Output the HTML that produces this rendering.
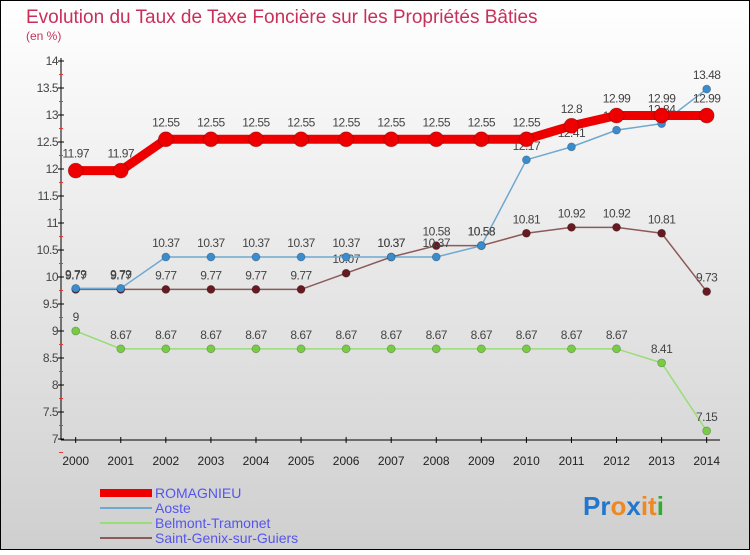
<!DOCTYPE html>
<html><head><meta charset="utf-8"><style>
body{margin:0;width:750px;height:550px;overflow:hidden;font-family:"Liberation Sans",sans-serif}
</style></head><body>
<svg width="750" height="550" viewBox="0 0 750 550">
<defs><linearGradient id="bg" x1="0" y1="0" x2="0" y2="1"><stop offset="0" stop-color="#ffffff"/><stop offset="1" stop-color="#cfcfcf"/></linearGradient></defs>
<rect x="0.5" y="0.5" width="749" height="549" fill="url(#bg)" stroke="#000"/>
<text x="26" y="23" font-size="19" fill="#c8305a">Evolution du Taux de Taxe Foncière sur les Propriétés Bâties</text>
<text x="26" y="40" font-size="12" fill="#c8305a">(en %)</text>
<g id="axes"></g>
<g id="series"></g>
<g font-size="14" fill="#5555ee">
<rect x="100" y="489" width="52" height="8" fill="#ee0000"/>
<text x="155" y="498">ROMAGNIEU</text>
<rect x="100" y="507" width="52" height="2" fill="#6fa8d0"/>
<text x="155" y="513">Aoste</text>
<rect x="100" y="522" width="52" height="2" fill="#99dd77"/>
<text x="155" y="528">Belmont-Tramonet</text>
<rect x="100" y="537" width="52" height="2" fill="#8b5a5a"/>
<text x="155" y="543">Saint-Genix-sur-Guiers</text>
</g>
<text x="583" y="515" font-size="26" font-weight="bold"><tspan fill="#2277cc">Pr</tspan><tspan fill="#ee8822">o</tspan><tspan fill="#2277cc">x</tspan><tspan fill="#ee8822">it</tspan><tspan fill="#33aa33">i</tspan></text>
</svg>
<script>
const years=[2000,2001,2002,2003,2004,2005,2006,2007,2008,2009,2010,2011,2012,2013,2014];
const yTicks=[7,7.5,8,8.5,9,9.5,10,10.5,11,11.5,12,12.5,13,13.5,14];
const romagnieu=[11.97,11.97,12.55,12.55,12.55,12.55,12.55,12.55,12.55,12.55,12.55,12.8,12.99,12.99,12.99];
const aoste=[9.79,9.79,10.37,10.37,10.37,10.37,10.37,10.37,10.37,10.58,12.17,12.41,12.72,12.84,13.48];
const belmont=[9,8.67,8.67,8.67,8.67,8.67,8.67,8.67,8.67,8.67,8.67,8.67,8.67,8.41,7.15];
const saintGenix=[9.77,9.77,9.77,9.77,9.77,9.77,10.07,10.37,10.58,10.58,10.81,10.92,10.92,10.81,9.73];
const NS='http://www.w3.org/2000/svg';
const xs=i=>75.7+i*45.07;
const ys=v=>439-(v-7)*54;
function mk(tag,attrs,parent,txt){const e=document.createElementNS(NS,tag);for(const k in attrs)e.setAttribute(k,attrs[k]);if(txt!==undefined)e.textContent=txt;parent.appendChild(e);return e;}
const ax=document.getElementById('axes');
let e=mk('line',{x1:61,y1:58,x2:61,y2:440,stroke:'#000'},ax);


e=mk('line',{x1:61,y1:440,x2:720,y2:440,stroke:'#000'},ax);


yTicks.forEach((t,i)=>{const y=ys(t);
 mk('line',{x1:58,y1:y,x2:64,y2:y,stroke:'#000'},ax);
 mk('line',{x1:59,y1:y+13.5,x2:63,y2:y+13.5,stroke:'#e33'},ax);
 const tx=mk('text',{x:58,y:y+4,'font-size':12,'text-anchor':'end',fill:'#444','letter-spacing':'-0.5'},ax,String(t));
 
 });
years.forEach((yr,i)=>{const x=xs(i);
 mk('line',{x1:x,y1:437,x2:x,y2:443,stroke:'#000'},ax);
 const tx=mk('text',{x:x,y:465,'font-size':12,'text-anchor':'middle',fill:'#222'},ax,String(yr));
 
 });
const sg=document.getElementById('series');
function draw(vals,name,color,dot,width,r,dy){
 const g=mk('g',{},sg);
 
 
 const p=mk('polyline',{points:vals.map((v,i)=>xs(i)+','+ys(v)).join(' '),fill:'none',stroke:color,'stroke-width':width},g);
 
 
 vals.forEach((v,i)=>{
  const c=mk('circle',{cx:xs(i),cy:ys(v),r:r,fill:dot,stroke:'rgba(0,0,0,0.25)','stroke-width':0.8},g);
  
  
  const t=mk('text',{x:xs(i),y:ys(v)-dy,'font-size':12,'text-anchor':'middle',fill:'#444','letter-spacing':'-0.5'},g,String(v));
  
  
 });
}
draw(saintGenix,'saint-genix','#8b5a5a','#661a22',1.5,4,10);
draw(belmont,'belmont','#99dd77','#77cc44',1.5,4,10);
draw(aoste,'aoste','#6fa8d0','#3a8ccc',1.5,4,10);
draw(romagnieu,'romagnieu','#ee0000','#ee0000',9,7.5,13);
</script>
</body></html>
